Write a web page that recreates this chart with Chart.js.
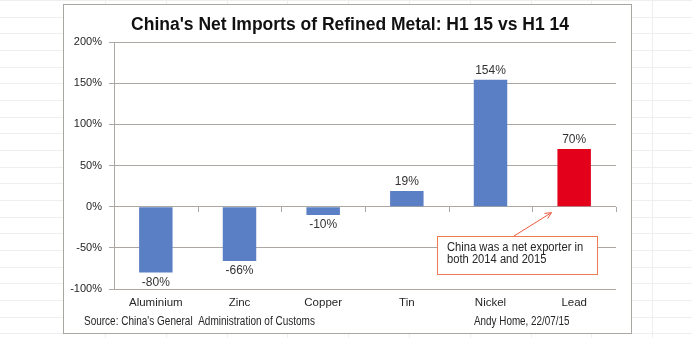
<!DOCTYPE html>
<html>
<head>
<meta charset="utf-8">
<script src="https://cdn.jsdelivr.net/npm/chart.js@4.4.0/dist/chart.umd.min.js"></script>
<style>
html,body{margin:0;padding:0;background:#fff;}
#wrap{position:relative;width:692px;height:338px;}
canvas{display:block;}
</style>
</head>
<body>
<div id="wrap"><canvas id="c" width="692" height="338"></canvas></div>
<script>
const categories = ["Aluminium", "Zinc", "Copper", "Tin", "Nickel", "Lead"];
const changePct = [-80, -66, -10, 19, 154, 70];
const barColors = ["#5b7fc4", "#5b7fc4", "#5b7fc4", "#5b7fc4", "#5b7fc4", "#e2001a"];
const yTicks = [-100, -50, 0, 50, 100, 150, 200];
const titleText = "China's Net Imports of Refined Metal: H1 15 vs H1 14";
const sourceText = "Source: China's General  Administration of Customs";
const creditText = "Andy Home, 22/07/15";
const noteLines = ["China was a net exporter in", "both 2014 and 2015"];

const SANS = "'Liberation Sans', Arial, sans-serif";
const GRID = '#aca7a3';

function narrowText(ctx, text, x, y, sx) {
  ctx.save();
  ctx.translate(x, y);
  ctx.scale(sx, 1);
  ctx.fillText(text, 0, 0);
  ctx.restore();
}

const frame = {
  id: 'frame',
  beforeDraw(chart) {
    const ctx = chart.ctx;
    const W = chart.width, H = chart.height;
    ctx.save();
    ctx.fillStyle = '#fff';
    ctx.fillRect(0, 0, W, H);
    // faint spreadsheet grid behind
    ctx.strokeStyle = '#eeeeee';
    ctx.lineWidth = 1;
    for (let x = 105; x < W; x += 60.8) {
      ctx.beginPath(); ctx.moveTo(Math.round(x) + 0.5, 0); ctx.lineTo(Math.round(x) + 0.5, H); ctx.stroke();
    }
    for (let y = 0; y < H; y += 16.67) {
      ctx.beginPath(); ctx.moveTo(0, Math.round(y) + 0.5); ctx.lineTo(W, Math.round(y) + 0.5); ctx.stroke();
    }
    // chart box
    ctx.fillStyle = '#fff';
    ctx.fillRect(63, 4, 569, 330);
    ctx.strokeStyle = '#aaa6a2';
    ctx.strokeRect(63.5, 4.5, 568, 329);
    // title
    ctx.fillStyle = '#111';
    ctx.font = 'bold 17.5px ' + SANS;
    ctx.textAlign = 'center';
    ctx.textBaseline = 'alphabetic';
    ctx.fillText(titleText, 350, 30);
    ctx.restore();
  },
  afterDatasetsDraw(chart) {
    const ctx = chart.ctx;
    const ys = chart.scales.y;
    const y0 = ys.getPixelForValue(0);
    const area = chart.chartArea;
    ctx.save();
    // category tick marks on zero line
    ctx.strokeStyle = GRID;
    ctx.lineWidth = 1;
    const n = categories.length;
    const step = (area.right - area.left) / n;
    for (let i = 1; i <= n; i++) {
      const x = Math.round(area.left + i * step) + 0.5;
      ctx.beginPath(); ctx.moveTo(x, Math.round(y0)); ctx.lineTo(x, Math.round(y0) + 5); ctx.stroke();
    }
    // data labels
    ctx.fillStyle = '#333';
    ctx.font = '12px ' + SANS;
    ctx.textAlign = 'center';
    const meta = chart.getDatasetMeta(0);
    meta.data.forEach((bar, i) => {
      const v = changePct[i];
      if (v >= 0) {
        ctx.textBaseline = 'bottom';
        ctx.fillText(v + '%', bar.x, bar.y - 3);
      } else {
        ctx.textBaseline = 'top';
        ctx.fillText(v + '%', bar.x, bar.y + 4);
      }
    });
    // annotation
    const lead = meta.data[5];
    const tipX = lead.x - lead.width / 2 - 6;
    const tipY = y0 + 6;
    const bx = 437, by = 236, bw = 160, bh = 38;
    ctx.fillStyle = '#fff';
    ctx.fillRect(bx, by, bw, bh);
    ctx.strokeStyle = '#ef7a50';
    ctx.strokeRect(bx + 0.5, by + 0.5, bw, bh);
    // arrow
    const sx = 514, sy = by;
    ctx.strokeStyle = '#ee5a3e';
    ctx.beginPath(); ctx.moveTo(sx, sy); ctx.lineTo(tipX, tipY); ctx.stroke();
    const ang = Math.atan2(tipY - sy, tipX - sx);
    ctx.beginPath();
    ctx.moveTo(tipX - 7 * Math.cos(ang - 0.45), tipY - 7 * Math.sin(ang - 0.45));
    ctx.lineTo(tipX, tipY);
    ctx.lineTo(tipX - 7 * Math.cos(ang + 0.45), tipY - 7 * Math.sin(ang + 0.45));
    ctx.stroke();
    ctx.fillStyle = '#262626';
    ctx.font = '12.5px ' + SANS;
    ctx.textAlign = 'left';
    ctx.textBaseline = 'middle';
    narrowText(ctx, noteLines[0], bx + 10, by + 12, 0.895);
    narrowText(ctx, noteLines[1], bx + 10, by + 24, 0.895);
    // footer texts
    ctx.font = '12.5px ' + SANS;
    narrowText(ctx, sourceText, 84, 322, 0.8);
    narrowText(ctx, creditText, 474, 322, 0.79);
    ctx.restore();
  }
};

new Chart(document.getElementById('c'), {
  type: 'bar',
  data: {
    labels: categories,
    datasets: [{
      data: changePct,
      backgroundColor: barColors,
      borderWidth: 0,
      barPercentage: 0.4,
      categoryPercentage: 1.0
    }]
  },
  options: {
    responsive: false,
    animation: false,
    devicePixelRatio: 1,
    layout: { padding: { left: 63, right: 76, top: 42, bottom: 0 } },
    plugins: {
      legend: { display: false },
      tooltip: { enabled: false },
      title: { display: false }
    },
    scales: {
      x: {
        grid: { display: false, drawTicks: false },
        border: { display: false },
        ticks: { color: '#262626', font: { family: SANS, size: 11.5 }, padding: 7, maxRotation: 0 },
        afterFit(s) { s.height = 49; }
      },
      y: {
        min: -100, max: 200,
        afterBuildTicks(s) { s.ticks = yTicks.map(v => ({ value: v })); },
        grid: { color: GRID, tickLength: 5, drawTicks: true },
        border: { display: true, color: GRID },
        ticks: { color: '#262626', font: { family: SANS, size: 11 }, padding: 7, callback: v => v + '%' },
        afterFit(s) { s.width = 51; }
      }
    }
  },
  plugins: [frame]
});
</script>
</body>
</html>
